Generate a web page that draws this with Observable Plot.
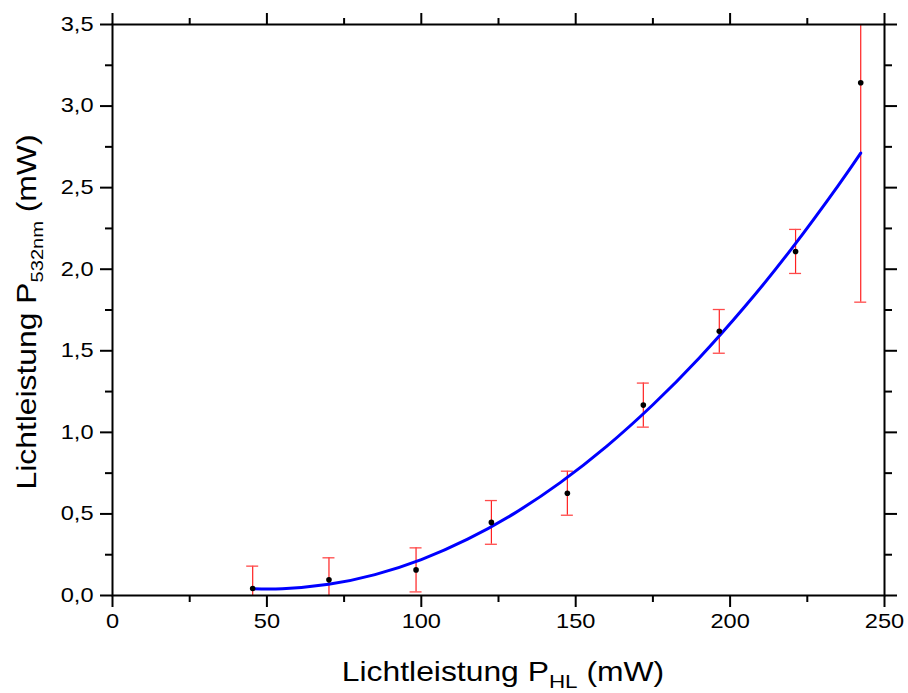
<!DOCTYPE html>
<html>
<head>
<meta charset="utf-8">
<script src="https://cdn.jsdelivr.net/npm/d3@7"></script>
<script src="https://cdn.jsdelivr.net/npm/@observablehq/plot@0.6"></script>
<style>
  html, body { margin: 0; padding: 0; background: white; }
  svg { display: block; }
</style>
</head>
<body>
<div id="chart"></div>
<script>
const xs   = [45.4, 70.1, 98.3, 122.7, 147.3, 171.9, 196.5, 221.2, 242.3];
const ys   = [0.043, 0.096, 0.157, 0.448, 0.627, 1.167, 1.619, 2.109, 3.143];
const yerr = [0.137, 0.135, 0.135, 0.134, 0.135, 0.135, 0.134, 0.135, 1.345];

// Fit curve points
const fitX = [45.4, 55, 70, 85, 100, 115, 130, 145, 160, 175, 190, 205, 220, 235, 242.3];
const fitY = [0.042, 0.042, 0.069, 0.128, 0.220, 0.345, 0.502, 0.692, 0.914, 1.169, 1.456, 1.776, 2.128, 2.513, 2.712];

// Tick values
const xTicks = [0, 50, 100, 150, 200, 250];
const xMinor = [25, 75, 125, 175, 225];
const yTicks = [0, 0.5, 1.0, 1.5, 2.0, 2.5, 3.0, 3.5];
const yMinor = [0.25, 0.75, 1.25, 1.75, 2.25, 2.75, 3.25];

const points = xs.map((x, i) => ({x, y: ys[i], lo: ys[i] - yerr[i], hi: ys[i] + yerr[i]}));
const fit = fitX.map((x, i) => ({x, y: fitY[i]}));

const fmtY = d => d.toFixed(1).replace(".", ",");
const blank = () => "";
const STRETCH = 1.18;

const chart = Plot.plot({
  width: 908,
  height: 693,
  marginLeft: 112,
  marginRight: 24,
  marginTop: 24,
  marginBottom: 98,
  x: {domain: [0, 250]},
  y: {domain: [0, 3.5]},
  style: {fontFamily: "'Liberation Sans', Arial, sans-serif", fontSize: "20px", color: "black", background: "white", overflow: "visible"},
  marks: [
    // error bars
    Plot.ruleX(points, {x: "x", y1: "lo", y2: "hi", stroke: "#ff2020", strokeWidth: 1.2, clip: true}),
    Plot.ruleY(points, {y: "hi", x1: "x", x2: "x", insetLeft: -6, insetRight: -6, stroke: "#ff4a4a", strokeWidth: 1.3, clip: true}),
    Plot.ruleY(points, {y: "lo", x1: "x", x2: "x", insetLeft: -6, insetRight: -6, stroke: "#ff4a4a", strokeWidth: 1.3, clip: true}),
    // fit curve
    Plot.line(fit, {x: "x", y: "y", stroke: "#0000ff", strokeWidth: 3, curve: "natural"}),
    // data points
    Plot.dot(points, {x: "x", y: "y", r: 2.8, fill: "black", stroke: null}),
    // frame
    Plot.frame({stroke: "black", strokeWidth: 2}),
    // bottom axis
    Plot.axisX(xTicks, {anchor: "bottom", tickSize: 12, tickPadding: 6, strokeWidth: 2, fontSize: 20, label: null}),
    Plot.axisX(xMinor, {anchor: "bottom", tickSize: 7, strokeWidth: 2, tickFormat: blank, label: null}),
    // top axis
    Plot.axisX(xTicks, {anchor: "top", tickSize: 12, strokeWidth: 2, tickFormat: blank, label: null}),
    Plot.axisX(xMinor, {anchor: "top", tickSize: 7, strokeWidth: 2, tickFormat: blank, label: null}),
    // left axis
    Plot.axisY(yTicks, {anchor: "left", tickSize: 12, tickPadding: 7, strokeWidth: 2, fontSize: 20, tickFormat: fmtY, label: null}),
    Plot.axisY(yMinor, {anchor: "left", tickSize: 7, strokeWidth: 2, tickFormat: blank, label: null}),
    // right axis
    Plot.axisY(yTicks, {anchor: "right", tickSize: 12, strokeWidth: 2, tickFormat: blank, label: null}),
    Plot.axisY(yMinor, {anchor: "right", tickSize: 7, strokeWidth: 2, tickFormat: blank, label: null})
  ]
});

document.getElementById("chart").appendChild(chart);

const svg = d3.select(chart);

// The reference's lettering is horizontally wider than Arial: stretch tick labels about their anchor
svg.selectAll("g[aria-label$='tick label'] text").each(function() {
  const t = this.getAttribute("transform") || "";
  this.setAttribute("transform", t + ` scale(${STRETCH},1)`);
});

// Axis titles with subscripts
const xt = svg.append("text")
  .attr("transform", `translate(503,681) scale(${STRETCH},1)`)
  .attr("text-anchor", "middle")
  .attr("font-size", 27)
  .attr("fill", "black");
xt.append("tspan").text("Lichtleistung P");
xt.append("tspan").attr("font-size", 19).attr("dy", 7).text("HL");
xt.append("tspan").attr("dy", -7).text(" (mW)");

const yt = svg.append("text")
  .attr("transform", `translate(36,312) rotate(-90) scale(${STRETCH},1)`)
  .attr("text-anchor", "middle")
  .attr("font-size", 27)
  .attr("fill", "black");
yt.append("tspan").text("Lichtleistung P");
yt.append("tspan").attr("font-size", 17).attr("dy", 7).text("532nm");
yt.append("tspan").attr("dy", -7).text(" (mW)");
</script>
</body>
</html>
